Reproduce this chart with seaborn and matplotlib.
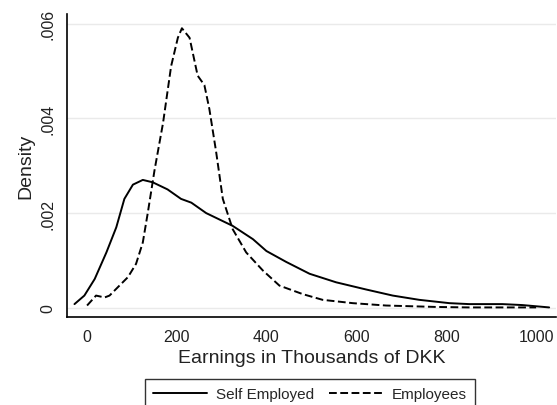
import matplotlib
matplotlib.use('Agg')
import matplotlib.pyplot as plt
import seaborn as sns
import pandas as pd

# Kernel density curves
self_x = [-27, -5, 18, 44, 66, 84, 103, 125, 147, 180, 210, 233, 266, 325,
          370, 400, 444, 496, 555, 621, 681, 740, 807, 851, 925, 969, 1029]
self_y = [0.00008, 0.00026, 0.00061, 0.00117, 0.0017, 0.0023, 0.0026, 0.0027,
          0.00265, 0.0025, 0.0023, 0.00222, 0.002, 0.00173, 0.00145, 0.00120,
          0.00097, 0.00072, 0.00054, 0.00039, 0.00026, 0.00017, 0.0001,
          0.00008, 0.00008, 0.00006, 0.00001]

emp_x = [1, 21, 40, 51, 73, 92, 110, 125, 136, 151, 170, 188, 203, 212, 229,
         247, 262, 273, 288, 303, 325, 355, 392, 429, 481, 525, 592, 666, 777,
         850, 1000]
emp_y = [0.00005, 0.00026, 0.00022, 0.00026, 0.00047, 0.00065, 0.00093,
         0.00138, 0.002, 0.0029, 0.0039, 0.0051, 0.0057, 0.0059, 0.0057,
         0.0049, 0.0047, 0.0042, 0.0033, 0.0023, 0.00166, 0.00117, 0.00079,
         0.00047, 0.00029, 0.00017, 0.0001, 0.00005, 0.00002, 0.00001, 0.00001]

groups = ["Self Employed", "Employees"]
y_ticks = [0, 0.002, 0.004, 0.006]
y_ticklabels = ["0", ".002", ".004", ".006"]
x_ticks = [0, 200, 400, 600, 800, 1000]

df = pd.concat([
    pd.DataFrame({"earn": self_x, "dens": self_y, "group": groups[0]}),
    pd.DataFrame({"earn": emp_x, "dens": emp_y, "group": groups[1]}),
])

sns.set_style("white")
plt.rcParams['font.family'] = ['Liberation Sans', 'DejaVu Sans']

fig = plt.figure(figsize=(5.57, 4.06), dpi=100)
ax = fig.add_axes([0.120, 0.217, 0.878, 0.746])

sns.lineplot(data=df, x="earn", y="dens", style="group", style_order=groups,
             dashes={groups[0]: "", groups[1]: (4, 1.8)}, color="black",
             linewidth=1.4, estimator=None, sort=False, ax=ax, legend=True)

ax.set_xlim(-44, 1044)
ax.set_ylim(-0.00019, 0.0062)
ax.set_yticks(y_ticks)
ax.set_yticklabels(y_ticklabels, rotation=90, va="center")
ax.set_xticks(x_ticks)
ax.tick_params(axis="both", direction="out", length=5, width=1, color="black",
               labelsize=11.5, labelcolor="#222222")
ax.grid(axis="y", color="#eaeaea", linewidth=1)
ax.grid(axis="x", visible=False)

for side in ["top", "right"]:
    ax.spines[side].set_visible(False)
for side in ["left", "bottom"]:
    ax.spines[side].set_color("black")
    ax.spines[side].set_linewidth(1.2)

ax.set_xlabel("Earnings in Thousands of DKK", fontsize=14, color="#222222")
ax.set_ylabel("Density", fontsize=14, color="#222222")

# legend sits below the axes, its lower edge runs off the figure like the original
handles, labels = ax.get_legend_handles_labels()
ax.get_legend().remove()
leg = fig.legend(handles, labels, loc="upper center", ncol=2,
                 bbox_to_anchor=(0.557, 0.064), fontsize=11, frameon=True,
                 fancybox=False, edgecolor="black", handlelength=3.5,
                 handletextpad=0.6, columnspacing=1.0, borderpad=0.55,
                 borderaxespad=0)
leg.get_frame().set_linewidth(1)

fig.savefig("out.png", dpi=100)
